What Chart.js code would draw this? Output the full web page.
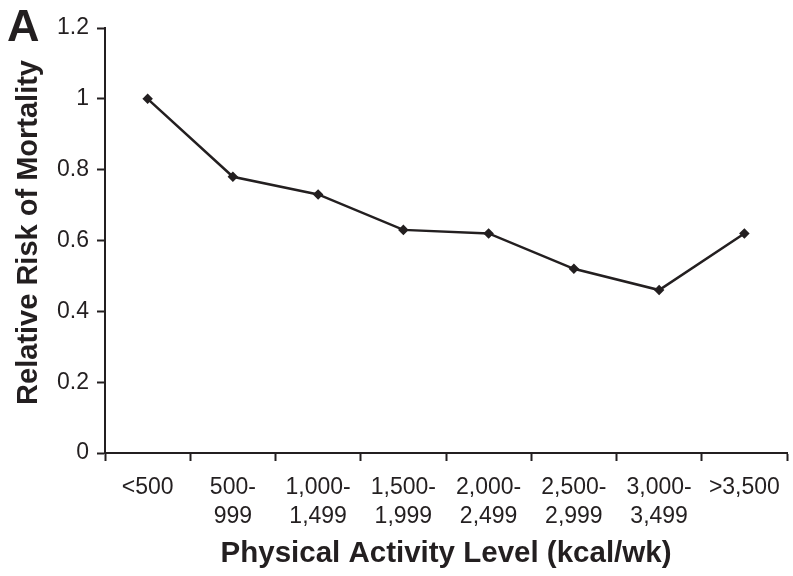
<!DOCTYPE html>
<html>
<head>
<meta charset="utf-8">
<script src="https://cdn.jsdelivr.net/npm/chart.js@4.4.1/dist/chart.umd.min.js"></script>
<style>
  html, body { margin: 0; padding: 0; background: #fff; }
  #wrap { position: relative; width: 793px; height: 576px; }
</style>
</head>
<body>
<div id="wrap"><canvas id="chartRiesgo" width="793" height="576"></canvas></div>
<script>
// Data
const niveles = [['<500'], ['500-', '999'], ['1,000-', '1,499'], ['1,500-', '1,999'],
    ['2,000-', '2,499'], ['2,500-', '2,999'], ['3,000-', '3,499'], ['>3,500']];
const riesgo = [1.0, 0.78, 0.73, 0.63, 0.62, 0.52, 0.46, 0.62];
const ticksY = [0, 0.2, 0.4, 0.6, 0.8, 1, 1.2];

const tinta = '#231f20';
const fuente = '"Liberation Sans", Arial, Helvetica, sans-serif';

// Panel letter "A"
const letraPanel = {
    id: 'letraPanel',
    afterDraw: (chart) => {
        const ctx = chart.ctx;
        ctx.save();
        ctx.fillStyle = tinta;
        ctx.font = 'bold 45px ' + fuente;
        ctx.textBaseline = 'alphabetic';
        ctx.textAlign = 'left';
        ctx.fillText('A', 7, 41);
        ctx.restore();
    }
};

const ctx = document.getElementById('chartRiesgo').getContext('2d');
new Chart(ctx, {
    type: 'line',
    data: {
        labels: niveles,
        datasets: [{
            label: 'Relative Risk of Mortality',
            data: riesgo,
            borderColor: tinta,
            backgroundColor: tinta,
            borderWidth: 2.5,
            pointStyle: 'rectRot',
            pointRadius: 3.5,
            pointHoverRadius: 3.5,
            tension: 0,
            fill: false
        }]
    },
    options: {
        responsive: false,
        animation: false,
        devicePixelRatio: 1,
        layout: { padding: { top: 28, right: 3, left: 0, bottom: 0 } },
        plugins: {
            legend: { display: false },
            tooltip: { enabled: false }
        },
        scales: {
            x: {
                offset: true,
                grid: {
                    offset: true,
                    drawOnChartArea: false,
                    drawTicks: true,
                    tickLength: 8,
                    tickWidth: 2,
                    tickColor: tinta
                },
                border: { display: true, color: tinta, width: 2 },
                ticks: {
                    color: tinta,
                    font: { family: fuente, size: 23, lineHeight: 1.26 },
                    padding: 12,
                    maxRotation: 0,
                    autoSkip: false
                },
                title: {
                    display: true,
                    text: 'Physical Activity Level (kcal/wk)',
                    color: tinta,
                    font: { family: fuente, size: 29.5, weight: 'bold' },
                    padding: { top: 0, bottom: 4 }
                },
                afterFit: (scale) => { scale.height = 123; }
            },
            y: {
                min: 0,
                max: 1.2,
                afterBuildTicks: (scale) => { scale.ticks = ticksY.map(v => ({ value: v })); },
                grid: {
                    drawOnChartArea: false,
                    drawTicks: true,
                    tickLength: 8,
                    tickWidth: 2,
                    tickColor: tinta
                },
                border: { display: true, color: tinta, width: 2 },
                ticks: {
                    color: tinta,
                    font: { family: fuente, size: 23 },
                    padding: 8,
                    callback: (v) => String(Math.round(v * 10) / 10)
                },
                title: {
                    display: true,
                    // leading spaces nudge the rotated title up a little, as in the original
                    text: '\u00a0\u00a0Relative Risk of Mortality',
                    color: tinta,
                    font: { family: fuente, size: 29, weight: 'bold' },
                    padding: { top: 12, bottom: 0 }
                },
                afterFit: (scale) => { scale.width = 105; }
            }
        }
    },
    plugins: [letraPanel]
});
</script>
</body>
</html>
